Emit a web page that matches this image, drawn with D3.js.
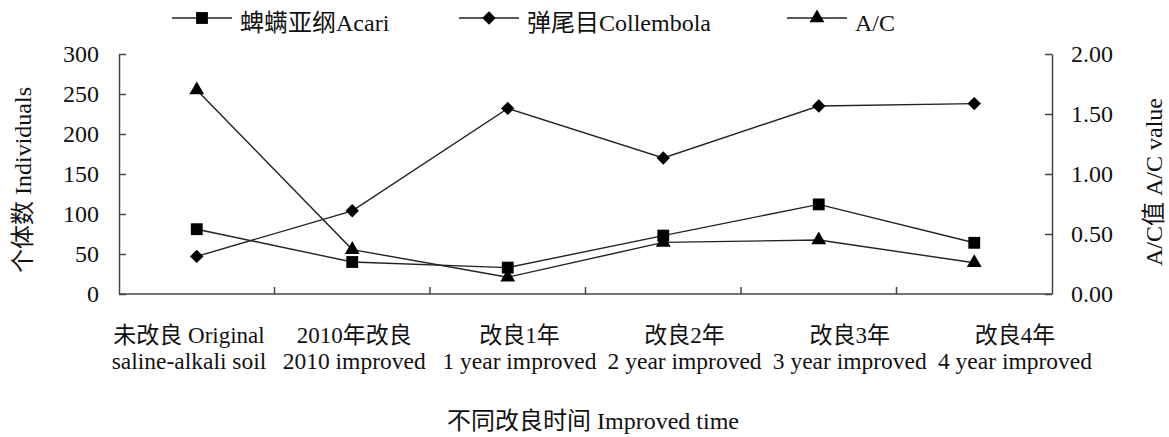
<!DOCTYPE html>
<html>
<head>
<meta charset="utf-8">
<script src="https://cdn.jsdelivr.net/npm/d3@7"></script>
<style>
  body { margin: 0; background: #fff; }
  text { font-family: "Liberation Serif", "Times New Roman", "Noto Sans CJK SC", serif; fill: #111; }
</style>
</head>
<body>
<div id="chart"></div>
<script>
const width = 1169;
const height = 437;

// categories (two lines each)
const catLine1 = ["未改良 Original", "2010年改良", "改良1年", "改良2年", "改良3年", "改良4年"];
const catLine2 = ["saline-alkali soil", "2010 improved", "1 year improved", "2 year improved", "3 year improved", "4 year improved"];

// series values
const acari = [81, 40, 33, 73, 112, 64];
const collembola = [47, 104, 232, 170, 235, 238];
const acRatio = [1.70, 0.37, 0.14, 0.43, 0.45, 0.26];

const leftTicks = [0, 50, 100, 150, 200, 250, 300];
const rightTicks = [0, 0.5, 1.0, 1.5, 2.0];

const margin = { left: 119, right: 1052, top: 54, bottom: 294 };
const fs = "24px";

const svg = d3.select("#chart").append("svg")
  .attr("width", width)
  .attr("height", height);

const x = d3.scaleBand().domain(d3.range(catLine1.length)).range([margin.left, margin.right]).padding(0);
const yL = d3.scaleLinear().domain([0, 300]).range([margin.bottom, margin.top]);
const yR = d3.scaleLinear().domain([0, 2]).range([margin.bottom, margin.top]);
const cx = (i) => x(i) + x.bandwidth() / 2;
// the category labels sit a bit wider than the plot bands (as in the source)
const xLabel = d3.scalePoint().domain(d3.range(catLine1.length)).range([189, 1015]);

const axisColor = "#444";

// left axis
const gL = svg.append("g").attr("transform", `translate(${margin.left},0)`)
  .call(d3.axisLeft(yL).tickValues(leftTicks).tickFormat(d3.format("d")).tickSizeInner(-7).tickSizeOuter(0).tickPadding(20));
// right axis
const gR = svg.append("g").attr("transform", `translate(${margin.right},0)`)
  .call(d3.axisRight(yR).tickValues(rightTicks).tickFormat(d3.format(".2f")).tickSizeInner(-7).tickSizeOuter(0).tickPadding(19));

[gL, gR].forEach(g => {
  g.select(".domain").attr("stroke", axisColor).attr("stroke-width", 1.5);
  g.selectAll(".tick line").attr("stroke", axisColor).attr("stroke-width", 1.5);
  g.selectAll(".tick text").style("font-size", fs).attr("fill", "#111");
});

// bottom axis line + ticks at category boundaries
svg.append("line")
  .attr("x1", margin.left).attr("x2", margin.right)
  .attr("y1", margin.bottom).attr("y2", margin.bottom)
  .attr("stroke", axisColor).attr("stroke-width", 1.5);
svg.selectAll(".xtick")
  .data(d3.range(1, catLine1.length))
  .enter().append("line")
  .attr("class", "xtick")
  .attr("x1", d => x(d)).attr("x2", d => x(d))
  .attr("y1", margin.bottom).attr("y2", margin.bottom - 7)
  .attr("stroke", axisColor).attr("stroke-width", 1.5);

// category labels
svg.selectAll(".cat1")
  .data(catLine1)
  .enter().append("text")
  .attr("x", (d, i) => xLabel(i))
  .attr("y", 343)
  .attr("text-anchor", "middle")
  .style("font-size", "23px")
  .text(d => d);
svg.selectAll(".cat2")
  .data(catLine2)
  .enter().append("text")
  .attr("x", (d, i) => xLabel(i))
  .attr("y", 369)
  .attr("text-anchor", "middle")
  .style("font-size", "23.5px")
  .text(d => d);

// axis titles
svg.append("text")
  .attr("transform", `translate(23,180) rotate(-90)`)
  .attr("text-anchor", "middle")
  .attr("dominant-baseline", "central")
  .style("font-size", fs)
  .text("个体数 Individuals");
svg.append("text")
  .attr("transform", `translate(1154,182) rotate(-90)`)
  .attr("text-anchor", "middle")
  .attr("dominant-baseline", "central")
  .style("font-size", fs)
  .text("A/C值 A/C value");
svg.append("text")
  .attr("x", 593)
  .attr("y", 429)
  .attr("text-anchor", "middle")
  .style("font-size", fs)
  .text("不同改良时间 Improved time");

// series
const series = [
  { name: "蜱螨亚纲Acari", values: acari, y: yL, symbol: d3.symbolSquare, size: 140, rot: 0 },
  { name: "弹尾目Collembola", values: collembola, y: yL, symbol: d3.symbolSquare, size: 90, rot: 45 },
  { name: "A/C", values: acRatio, y: yR, symbol: d3.symbolTriangle, size: 95, rot: 0 },
];

const line = d3.line();

series.forEach(s => {
  const pts = s.values.map((v, i) => [cx(i), s.y(v)]);
  svg.append("path")
    .attr("d", line(pts))
    .attr("fill", "none")
    .attr("stroke", "#222")
    .attr("stroke-width", 1.4);
  svg.selectAll(null)
    .data(pts)
    .enter().append("path")
    .attr("d", d3.symbol().type(s.symbol).size(s.size))
    .attr("transform", d => `translate(${d[0]},${d[1]}) rotate(${s.rot})`)
    .attr("fill", "#000");
});

// legend
const legendX = [172, 459, 787];
series.forEach((s, i) => {
  const g = svg.append("g").attr("transform", `translate(${legendX[i]},18)`);
  g.append("line").attr("x1", 0).attr("x2", 60).attr("y1", 0).attr("y2", 0)
    .attr("stroke", "#222").attr("stroke-width", 1.4);
  g.append("path")
    .attr("d", d3.symbol().type(s.symbol).size(s.size))
    .attr("transform", `translate(30,0) rotate(${s.rot})`)
    .attr("fill", "#000");
  g.append("text")
    .attr("x", 68).attr("y", 13)
    .style("font-size", fs)
    .text(s.name);
});
</script>
</body>
</html>
